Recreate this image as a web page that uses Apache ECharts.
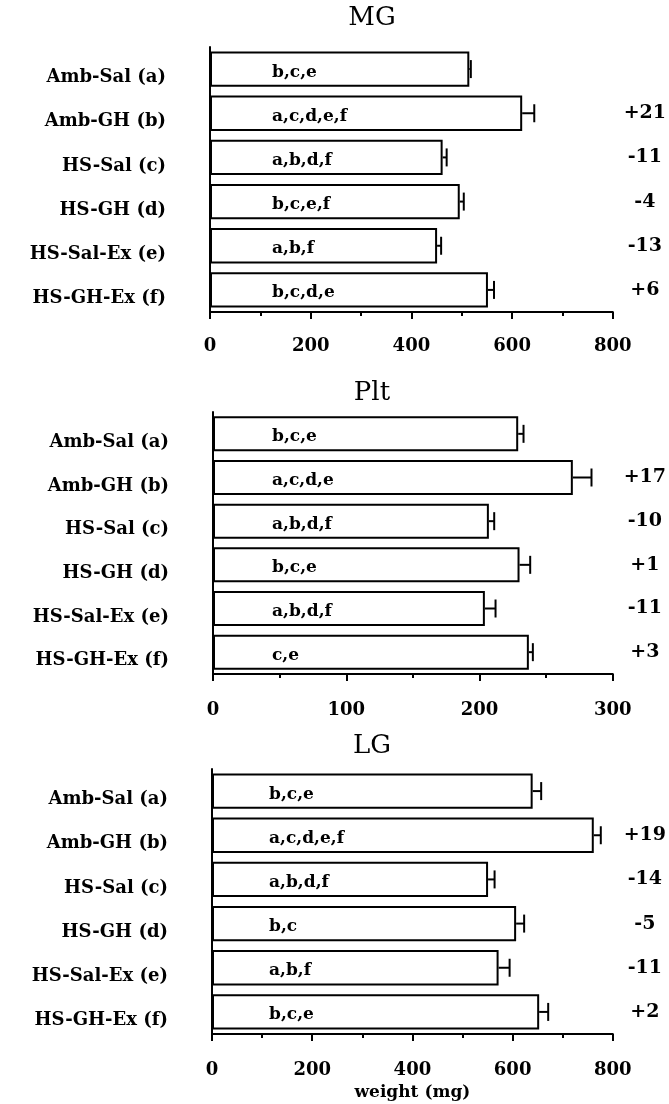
<!DOCTYPE html>
<html><head><meta charset="utf-8">
<script src="https://cdn.jsdelivr.net/npm/echarts@6/dist/echarts.min.js"></script>
<style>html,body{margin:0;padding:0;background:#fff}#c{width:669px;height:1104px}</style>
</head><body><div id="c"></div>
<script>
// ---- data ----
const categories = ['Amb-Sal (a)', 'Amb-GH (b)', 'HS-Sal (c)', 'HS-GH (d)', 'HS-Sal-Ex (e)', 'HS-GH-Ex (f)'];
const panelTitles = ['MG', 'Plt', 'LG'];

const mgMean = [515, 620, 462, 496, 451, 552];
const mgErr = [3, 24, 8, 8, 8, 12];
const mgLetters = ['b,c,e', 'a,c,d,e,f', 'a,b,d,f', 'b,c,e,f', 'a,b,f', 'b,c,d,e'];
const mgChange = ['', '+21', '-11', '-4', '-13', '+6'];

const pltMean = [229, 270, 207, 230, 204, 237];
const pltErr = [4, 14, 4, 8, 8, 3];
const pltLetters = ['b,c,e', 'a,c,d,e', 'a,b,d,f', 'b,c,e', 'a,b,d,f', 'c,e'];
const pltChange = ['', '+17', '-10', '+1', '-11', '+3'];

const lgMean = [640, 762, 551, 607, 572, 653];
const lgErr = [17, 14, 13, 16, 22, 18];
const lgLetters = ['b,c,e', 'a,c,d,e,f', 'a,b,d,f', 'b,c', 'a,b,f', 'b,c,e'];
const lgChange = ['', '+19', '-14', '-5', '-11', '+2'];

const axisMax = [800, 300, 800];
const axisInterval = [200, 100, 200];
const axisNames = ['', '', 'weight (mg)'];

// ---- layout / style ----
const FONT = 'DejaVu Serif';
const means = [mgMean, pltMean, lgMean];
const errs = [mgErr, pltErr, lgErr];
const letters = [mgLetters, pltLetters, lgLetters];
const changes = [mgChange, pltChange, lgChange];
const layout = [
  {grid: {left: 210, top: 47, width: 405, height: 265}, titleTop: 5, labelMargin: 25, letterX: 62},
  {grid: {left: 213, top: 412, width: 406, height: 262}, titleTop: 380, labelMargin: 27, letterX: 59},
  {grid: {left: 212, top: 769, width: 404, height: 265}, titleTop: 733, labelMargin: 27, letterX: 57}
];

const chart = echarts.init(document.getElementById('c'), null, {renderer: 'canvas'});
const option = {
  animation: false,
  backgroundColor: '#fff',
  title: [], grid: [], xAxis: [], yAxis: [], series: []
};

for (let i = 0; i < 3; i++) {
  const L = layout[i];
  option.title.push({
    text: panelTitles[i], left: 372, top: L.titleTop, textAlign: 'center', padding: 0,
    textStyle: {fontFamily: FONT, fontSize: 26, fontWeight: 'normal', color: '#000'}
  });
  option.grid.push(Object.assign({containLabel: false}, L.grid));
  option.xAxis.push({
    gridIndex: i, type: 'value', min: 0, max: axisMax[i], interval: axisInterval[i],
    axisLine: {show: true, onZero: false, lineStyle: {color: '#000', width: 2}},
    axisTick: {show: true, length: 7, lineStyle: {color: '#000', width: 2}},
    minorTick: {show: true, splitNumber: 2, length: 4, lineStyle: {color: '#000', width: 2}},
    splitLine: {show: false}, minorSplitLine: {show: false},
    axisLabel: {margin: L.labelMargin, fontFamily: FONT, fontWeight: 'bold', fontSize: 18, color: '#000'},
    name: axisNames[i], nameLocation: 'middle', nameGap: 50,
    nameTextStyle: {fontFamily: FONT, fontWeight: 'bold', fontSize: 17, color: '#000'}
  });
  option.yAxis.push({
    gridIndex: i, type: 'category', data: categories, inverse: true,
    axisLine: {show: true, lineStyle: {color: '#000', width: 2}},
    axisTick: {show: false},
    axisLabel: {margin: 44, fontFamily: FONT, fontWeight: 'bold', fontSize: 18, color: '#000',
      verticalAlign: 'top', lineHeight: 17}
  });
  option.yAxis.push({
    gridIndex: i, type: 'category', data: changes[i], inverse: true, position: 'right',
    axisLine: {show: false}, axisTick: {show: false},
    axisLabel: {margin: 32, align: 'center', fontFamily: FONT, fontWeight: 'bold', fontSize: 19, color: '#000'}
  });
  const lt = letters[i];
  option.series.push({
    type: 'bar', xAxisIndex: i, yAxisIndex: 2 * i, data: means[i],
    barCategoryGap: '20%', silent: true,
    itemStyle: {color: '#fff', borderColor: '#000', borderWidth: 2},
    label: {
      show: true, position: [L.letterX, '50%'], align: 'left', verticalAlign: 'middle', offset: [0, 3],
      formatter: p => lt[p.dataIndex],
      fontFamily: FONT, fontWeight: 'bold', fontSize: 17, color: '#000'
    }
  });
  option.series.push({
    type: 'custom', xAxisIndex: i, yAxisIndex: 2 * i, silent: true,
    encode: {x: 0, y: 1},
    data: means[i].map((m, k) => [m, k, errs[i][k]]),
    renderItem: (params, api) => {
      const v = api.value(0), c = api.value(1), e = api.value(2);
      const p0 = api.coord([v, c]);
      const p1 = api.coord([v + e, c]);
      const h = 18;
      return {type: 'group', children: [
        {type: 'line', shape: {x1: p0[0], y1: p0[1], x2: p1[0], y2: p1[1]}, style: {stroke: '#000', lineWidth: 2}},
        {type: 'line', shape: {x1: p1[0], y1: p1[1] - h / 2, x2: p1[0], y2: p1[1] + h / 2}, style: {stroke: '#000', lineWidth: 2}}
      ]};
    }
  });
}
chart.setOption(option);
</script>
</body></html>
